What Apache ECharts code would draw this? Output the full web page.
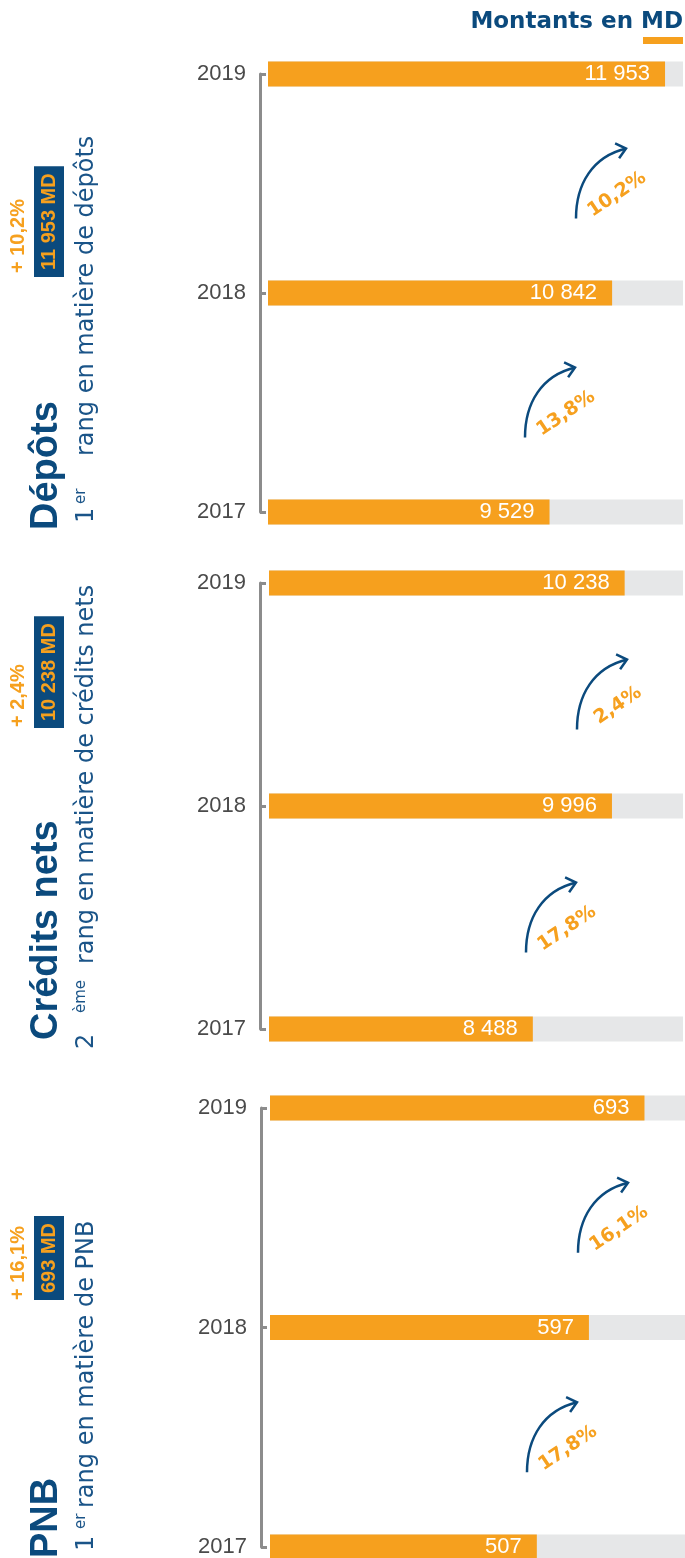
<!DOCTYPE html>
<html>
<head>
<meta charset="utf-8">
<script src="https://cdn.jsdelivr.net/npm/echarts@6/dist/echarts.min.js"></script>
<style>html,body{margin:0;padding:0;background:#fff}#c{width:685px;height:1558px}</style>
</head>
<body>
<div id="c"></div>
<script>
// ---------- data ----------
const years = ['2017', '2018', '2019'];
const depotsValues = [9529, 10842, 11953];
const creditsValues = [8488, 9996, 10238];
const pnbValues = [507, 597, 693];
const depotsGrowth = ['13,8%', '10,2%'];
const creditsGrowth = ['17,8%', '2,4%'];
const pnbGrowth = ['17,8%', '16,1%'];
const panelTitles = ['Dépôts', 'Crédits nets', 'PNB'];
const panelTotals = ['11 953 MD', '10 238 MD', '693 MD'];
const panelChanges = ['+ 10,2%', '+ 2,4%', '+ 16,1%'];
const rankNumbers = ['1', '2', '1'];
const rankSuffixes = ['er', 'ème', 'er'];
const rankTexts = ['rang en matière de dépôts', 'rang en matière de crédits nets', 'rang en matière de PNB'];
const unitTitle = 'Montants en MD';

// ---------- style / layout ----------
const ORANGE = '#F6A01E', NAVY = '#0B4A7D', NAVY2 = '#1A5488', GRAY = '#E6E7E8', AXIS = '#8C8C8C';
const FONT = '"Liberation Sans", Arial, Helvetica, sans-serif';
const WIDE = '"DejaVu Sans", Verdana, sans-serif';
const panels = [
  { values: depotsValues, growth: depotsGrowth, grid: { left: 268, right: 2, top: 74, bottom: 1046 }, min: 3620, max: 12330, offset: 8,
    side: { change: 273, box: 277, title: 530, num: 523, suf: 504, rank: 456 } },
  { values: creditsValues, growth: creditsGrowth, grid: { left: 269, right: 2, top: 583, bottom: 529 }, min: 3460, max: 11350, offset: 9,
    side: { change: 727, box: 728, title: 1040, num: 1049, suf: 1013, rank: 964 } },
  { values: pnbValues, growth: pnbGrowth, grid: { left: 270, right: 0, top: 1108, bottom: 10 }, min: 46, max: 763, offset: 9,
    side: { change: 1300, box: 1300, title: 1558, num: 1551, suf: 1529, rank: 1508 } }
];
const fmt = v => String(v).replace(/\B(?=(\d{3})+(?!\d))/g, ' ');

const chart = echarts.init(document.getElementById('c'), null, { renderer: 'canvas' });

const option = {
  animation: false,
  textStyle: { fontFamily: FONT },
  grid: panels.map(p => Object.assign({ containLabel: false }, p.grid)),
  xAxis: panels.map((p, i) => ({ type: 'value', gridIndex: i, min: p.min, max: p.max, show: false })),
  yAxis: panels.map((p, i) => ({
    type: 'category', gridIndex: i, data: years, boundaryGap: false, offset: p.offset,
    axisLine: { show: true, lineStyle: { color: AXIS, width: 3 } },
    axisTick: { show: true, inside: true, length: 6, lineStyle: { color: AXIS, width: 3 } },
    axisLabel: { color: '#4a4a4a', fontSize: 22, fontFamily: FONT, margin: 14 },
    splitLine: { show: false }
  })),
  series: panels.map((p, i) => ({
    type: 'bar', xAxisIndex: i, yAxisIndex: i, data: p.values, barWidth: 25, silent: true,
    showBackground: true, backgroundStyle: { color: GRAY },
    itemStyle: { color: ORANGE },
    label: { show: true, position: 'insideRight', distance: 15, color: '#fff', fontSize: 22, fontFamily: FONT,
      formatter: q => fmt(q.value) }
  }))
};
chart.setOption(option);

// ---------- annotations ----------
const g = [];
g.push({ type: 'text', x: 683, y: 22, style: { text: unitTitle, fill: NAVY, fontSize: 23, fontWeight: 'bold', fontFamily: WIDE, align: 'right', verticalAlign: 'middle' } });
g.push({ type: 'rect', shape: { x: 643, y: 37, width: 40, height: 7 }, style: { fill: ORANGE } });

const ROT = Math.PI / 2;
panels.forEach((p, i) => {
  const s = p.side;
  g.push({ type: 'text', x: 18, y: s.change, rotation: ROT,
    style: { text: panelChanges[i], fill: ORANGE, fontSize: 20, fontWeight: 'bold', fontFamily: FONT, align: 'left', verticalAlign: 'middle' } });
  g.push({ type: 'text', x: 49, y: s.box, rotation: ROT,
    style: { text: panelTotals[i], fill: ORANGE, fontSize: 20, fontWeight: 'bold', fontFamily: FONT, align: 'left', verticalAlign: 'middle',
      backgroundColor: NAVY, padding: [5, 7, 5, 7] } });
  g.push({ type: 'text', x: 47, y: s.title, rotation: ROT,
    style: { text: panelTitles[i], fill: NAVY, fontSize: 38, fontWeight: 'bold', fontFamily: FONT, align: 'left', verticalAlign: 'middle' } });
  g.push({ type: 'text', x: 87, y: s.num, rotation: ROT,
    style: { text: rankNumbers[i], fill: NAVY2, fontSize: 24, fontFamily: WIDE, align: 'left', verticalAlign: 'middle' } });
  g.push({ type: 'text', x: 81, y: s.suf, rotation: ROT,
    style: { text: rankSuffixes[i], fill: NAVY2, fontSize: 15, fontFamily: WIDE, align: 'left', verticalAlign: 'middle' } });
  g.push({ type: 'text', x: 87, y: s.rank, rotation: ROT,
    style: { text: rankTexts[i], fill: NAVY2, fontSize: 24, fontFamily: WIDE, align: 'left', verticalAlign: 'middle' } });

  // growth arrows between bars
  const left = chart.convertToPixel({ xAxisIndex: i }, p.min);
  const ys = years.map(y => chart.convertToPixel({ yAxisIndex: i }, y));
  p.growth.forEach((txt, k) => {
    const midY = (ys[k] + ys[k + 1]) / 2;
    const sx = left + (k === 1 ? 308 : 257);
    const sy = midY + 35;
    const tx = sx + 50, ty = sy - 70;
    g.push({ type: 'bezierCurve', shape: { x1: sx, y1: sy, cpx1: sx, cpy1: sy - 35, cpx2: sx + 17, cpy2: sy - 62, x2: tx, y2: ty },
      style: { stroke: NAVY, lineWidth: 2.5, fill: 'none' } });
    g.push({ type: 'polyline', shape: { points: [[tx - 10.9, ty - 5.1], [tx, ty], [tx - 6.9, ty + 9.8]] },
      style: { stroke: NAVY, lineWidth: 2.5, fill: 'none' } });
    g.push({ type: 'text', x: sx + 41, y: sy - 24, rotation: 34 * Math.PI / 180,
      style: { text: txt, fill: ORANGE, fontSize: 19, fontWeight: 'bold', fontFamily: WIDE, align: 'center', verticalAlign: 'middle' } });
  });
});
chart.setOption({ graphic: { elements: g } });
</script>
</body>
</html>
